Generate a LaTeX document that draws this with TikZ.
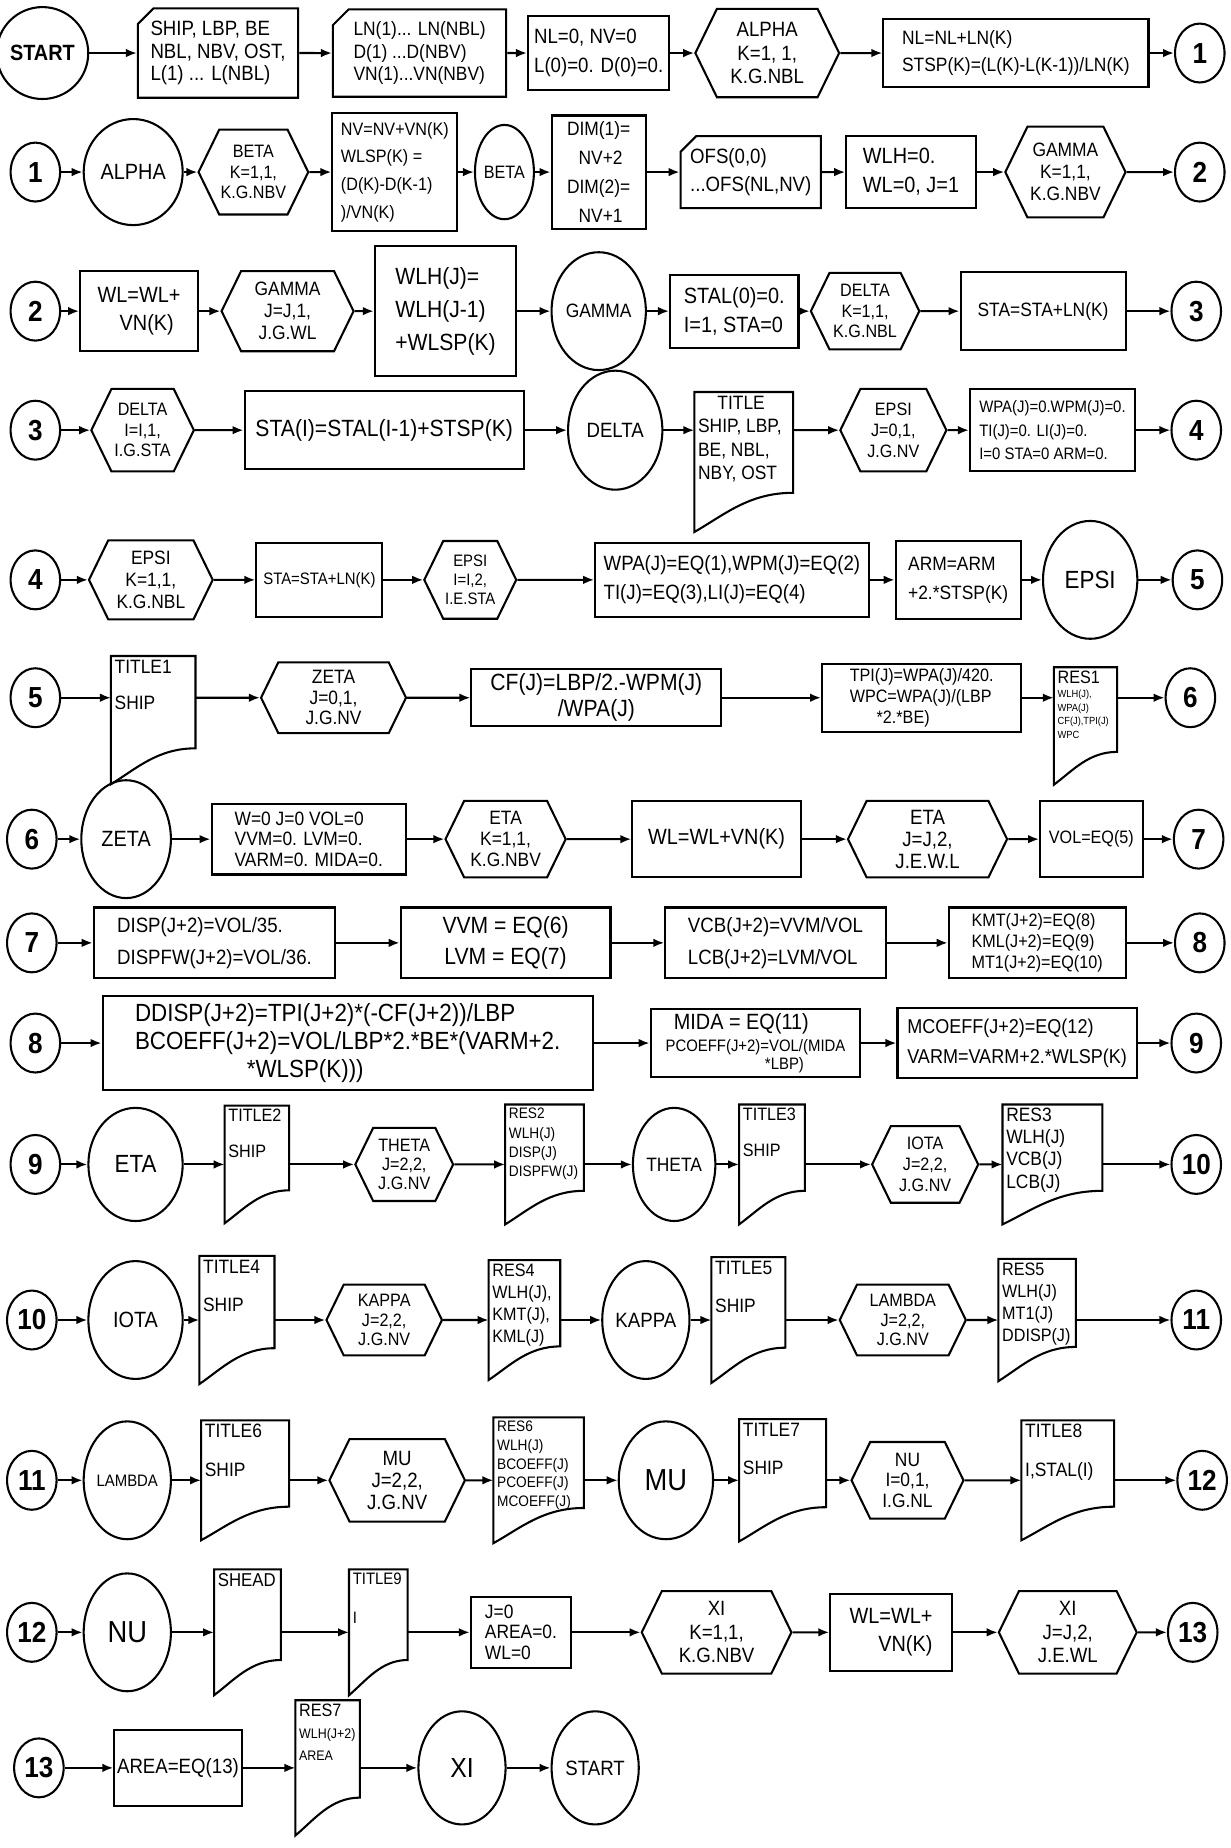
\documentclass[tikz,border=0pt]{standalone}
\usepackage{fontspec}
\setmainfont{Liberation Sans}[FakeStretch=0.9]
\usetikzlibrary{positioning, arrows.meta, shapes.geometric, shapes.misc, shapes.symbols, calc}

\newdimen\upx \upx=0.3mm
\newcommand{\fs}[2]{\fontsize{#1}{#2}\selectfont}
% page with curled lower edge, drawn round a named node
\newcommand{\docframe}[1]{%
  \draw let \p1=(#1.north west), \p2=(#1.south east) in
    (\p1) -- (\x2,\y1) -- (\x2,{\y2+0.28*(\y1-\y2)})
    .. controls ({\x2-0.45*(\x2-\x1)},{\y2+0.28*(\y1-\y2)}) and ({\x1+0.3*(\x2-\x1)},{\y2+0.12*(\y1-\y2)}) .. (\x1,\y2) -- cycle;}

\begin{document}
\begin{tikzpicture}[
    x=0.3mm, y=-0.3mm,
    line width=1.5pt,
    >={Latex[length=2.8mm, width=2.2mm]},
    every node/.style={font=\fs{14}{16}},
    box/.style 2 args={draw, rectangle, minimum width=#1*0.3mm, minimum height=#2*0.3mm, align=left, inner sep=2pt},
    card/.style 2 args={draw, chamfered rectangle, chamfered rectangle corners=north west, chamfered rectangle xsep=1.5mm, chamfered rectangle ysep=2.5mm, minimum width=#1*0.3mm, minimum height=#2*0.3mm, align=left, inner sep=2pt},
    hexa/.style 2 args={draw, signal, signal to=west and east, signal from=nowhere, signal pointer angle=128, minimum width=#1*0.3mm, minimum height=#2*0.3mm, align=center, inner sep=1pt},
    term/.style 2 args={draw, ellipse, minimum width=#1*0.3mm, minimum height=#2*0.3mm, inner sep=0pt},
    conn/.style={draw, ellipse, minimum width=42*0.3mm, minimum height=50*0.3mm, inner sep=0pt, font=\fs{21}{23}\bfseries},
    doc/.style 2 args={inner sep=2pt, execute at begin node={\begin{minipage}[c][\dimexpr#2\upx-4pt\relax][t]{\dimexpr#1\upx-4pt\relax}\raggedright}, execute at end node={\end{minipage}}}
]

\path[fill=white, use as bounding box] (0,0) rectangle (1044,1568);

% ================= Row 1 =================
\node[term={56}{78}, font=\fs{16}{18}\bfseries] (start) at (36,45) {START};
\node[card={136}{57}, font=\fs{15}{16.5}] (in1) at (185,45) {SHIP, LBP, BE\\NBL, NBV, OST,\\L(1) ... L(NBL)};
\node[card={147}{57}, font=\fs{14}{16}] (in2) at (356,45) {LN(1)... LN(NBL)\\D(1) ...D(NBV)\\VN(1)...VN(NBV)};
\node[box={120}{63}, font=\fs{15}{21}] (init) at (508,45) {NL=0, NV=0\\L(0)=0. D(0)=0.};
\node[hexa={122}{75}, font=\fs{15}{17}] (alpha) at (651,45) {ALPHA\\K=1, 1,\\K.G.NBL};
\node[box={225}{58}, font=\fs{14}{19}] (stsp) at (862,45) {NL=NL+LN(K)\\STSP(K)=(L(K)-L(K-1))/LN(K)};
\node[conn] (c1a) at (1018,45) {1};

% ================= Row 2 =================
\node[conn] (c1b) at (30,146) {1};
\node[term={84}{90}, font=\fs{16}{18}] (alphaend) at (113,146) {ALPHA};
\node[hexa={86}{72}, font=\fs{13}{15}] (beta) at (215,146) {BETA\\K=1,1,\\K.G.NBV};
\node[box={106}{100}, font=\fs{13}{20}] (wlsp) at (335,146) {NV=NV+VN(K)\\WLSP(K) =\\(D(K)-D(K-1)\\)/VN(K)};
\node[term={50}{80}, font=\fs{13}{15}] (betaend) at (428,146) {BETA};
\node[box={80}{96}, font=\fs{14}{21}] (dim) at (508,146) {DIM(1)=\\\hspace*{0.6em}NV+2\\DIM(2)=\\\hspace*{0.6em}NV+1};
\node[card={119}{60}, font=\fs{15}{20}] (ofs) at (637,146) {OFS(0,0)\\...OFS(NL,NV)};
\node[box={110}{61}, font=\fs{16}{21}] (wlh) at (773,146) {WLH=0.\\WL=0, J=1};
\node[hexa={102}{77}, font=\fs{14}{16}] (gamma) at (904,146) {GAMMA\\K=1,1,\\K.G.NBV};
\node[conn] (c2a) at (1018,146) {2};

% ================= Row 3 =================
\node[conn] (c2b) at (30,264) {2};
\node[box={100}{68}, font=\fs{16}{20}] (wl) at (118,264) {WL=WL+\\\hspace*{1em}VN(K)};
\node[hexa={112}{68}] (gammaj) at (244,264) {GAMMA\\J=J,1,\\J.G.WL};
\node[box={120}{110}, font=\fs{17}{24}] (wlhj) at (378,264) {WLH(J)=\\WLH(J-1)\\+WLSP(K)};
\node[term={80}{100}, font=\fs{14}{16}] (gammaend) at (508,264) {GAMMA};
\node[box={109}{62}, font=\fs{16}{21}] (stal) at (623,264) {STAL(0)=0.\\I=1, STA=0};
\node[hexa={92}{65}, font=\fs{13}{15}] (delta) at (734,264) {DELTA\\K=1,1,\\K.G.NBL};
\node[box={140}{66}] (sta) at (885,264) {STA=STA+LN(K)};
\node[conn] (c3a) at (1015,264) {3};

% ================= Row 4 =================
\node[conn] (c3b) at (30,365) {3};
\node[hexa={87}{70}, font=\fs{13}{15}] (deltai) at (121,365) {DELTA\\I=I,1,\\I.G.STA};
\node[box={237}{66}, font=\fs{17}{20}] (stai) at (326,365) {STA(I)=STAL(I-1)+STSP(K)};
\node[term={80}{101}, font=\fs{15}{17}] (deltaend) at (522,365) {DELTA};
\node[doc={82}{117}, font=\fs{14}{17}] (title) at (631,392) {\hspace*{1em}TITLE\newline SHIP, LBP,\newline BE, NBL,\newline NBY, OST};
\node[hexa={90}{70}, font=\fs{13}{15}] (epsij) at (758,365) {EPSI\\J=0,1,\\J.G.NV};
\node[box={140}{70}, font=\fs{12}{17}] (wpa0) at (893,365) {WPA(J)=0.WPM(J)=0.\\TI(J)=0. LI(J)=0.\\I=0 STA=0 ARM=0.};
\node[conn] (c4a) at (1015,365) {4};

% ================= Row 5 =================
\node[conn] (c4b) at (30,492) {4};
\node[hexa={105}{67}] (epsik) at (128,492) {EPSI\\K=1,1,\\K.G.NBL};
\node[box={107}{63}, font=\fs{12}{14}] (sta2) at (271,492) {STA=STA+LN(K)};
\node[hexa={78}{66}, font=\fs{12}{14}] (epsii) at (399,492) {EPSI\\I=I,2,\\I.E.STA};
\node[box={232}{63}, font=\fs{15}{21}] (wpa) at (621,492) {WPA(J)=EQ(1),WPM(J)=EQ(2)\\TI(J)=EQ(3),LI(J)=EQ(4)};
\node[box={106}{66}, font=\fs{14}{21}] (arm) at (813,492) {ARM=ARM\\+2.*STSP(K)};
\node[term={80}{100}, font=\fs{18}{20}] (epsiend) at (925,492) {EPSI};
\node[conn] (c5a) at (1016,492) {5};

% ================= Row 6 =================
\node[conn] (c5b) at (30,592) {5};
\node[doc={70}{107}, font=\fs{14}{26}] (title1) at (130,611) {TITLE1\newline SHIP};
\node[hexa={123}{60}, font=\fs{14}{15}] (zeta) at (283,592) {ZETA\\J=0,1,\\J.G.NV};
\node[box={212}{48}, font=\fs{17}{19}, align=center] (cf) at (506,592) {CF(J)=LBP/2.-WPM(J)\\/WPA(J)};
\node[box={169}{58}, font=\fs{13}{15}] (tpi) at (782,592) {TPI(J)=WPA(J)/420.\\WPC=WPA(J)/(LBP\\\hspace*{1.5em}*2.*BE)};
\node[doc={52}{98}, font=\fs{7.5}{10}] (res1) at (921,616) {{\fs{13}{14}RES1}\newline WLH(J),\newline WPA(J)\newline CF(J),TPI(J)\newline WPC};
\node[conn] (c6a) at (1010,592) {6};

% ================= Row 7 =================
\node[conn] (c6b) at (27,712) {6};
\node[term={76}{100}, font=\fs{16}{18}] (zetaend) at (107,712) {ZETA};
\node[box={165}{60}, font=\fs{14}{15}] (init2) at (262,712) {W=0 J=0 VOL=0\\VVM=0. LVM=0.\\VARM=0. MIDA=0.};
\node[hexa={102}{65}, font=\fs{14}{15}] (etak) at (429,712) {ETA\\K=1,1,\\K.G.NBV};
\node[box={143}{65}, font=\fs{16}{18}] (wl2) at (608,712) {WL=WL+VN(K)};
\node[hexa={135}{65}, font=\fs{15}{16}] (etaj) at (787,712) {ETA\\J=J,2,\\J.E.W.L};
\node[box={87}{65}, font=\fs{13}{15}] (vol) at (926,712) {VOL=EQ(5)};
\node[conn] (c7a) at (1017,712) {7};

% ================= Row 8 =================
\node[conn] (c7b) at (27,800) {7};
\node[box={205}{60}, font=\fs{15}{23}] (disp) at (182,800) {DISP(J+2)=VOL/35.\\DISPFW(J+2)=VOL/36.};
\node[box={178}{60}, font=\fs{17}{22}, align=center] (vvm) at (429,800) {VVM = EQ(6)\\LVM = EQ(7)};
\node[box={187}{60}, font=\fs{15}{23}] (vcb) at (658,800) {VCB(J+2)=VVM/VOL\\LCB(J+2)=LVM/VOL};
\node[box={150}{60}, font=\fs{13}{15}] (kmt) at (880,800) {KMT(J+2)=EQ(8)\\KML(J+2)=EQ(9)\\MT1(J+2)=EQ(10)};
\node[conn] (c8a) at (1018,800) {8};

% ================= Row 9 =================
\node[conn] (c8b) at (30,885) {8};
\node[box={416}{80}, font=\fs{18}{20}] (ddisp) at (295,885) {DDISP(J+2)=TPI(J+2)*(-CF(J+2))/LBP\\BCOEFF(J+2)=VOL/LBP*2.*BE*(VARM+2.\\\hspace*{4.5em}*WLSP(K)))};
\node[box={178}{58}, font=\fs{12}{13}] (mida) at (641,885) {\hspace*{0.5em}{\fs{16}{17}MIDA = EQ(11)}\\[3pt]PCOEFF(J+2)=VOL/(MIDA\\\hspace*{6em}*LBP)};
\node[box={203}{60}, font=\fs{14.5}{22}] (mcoeff) at (863,885) {MCOEFF(J+2)=EQ(12)\\VARM=VARM+2.*WLSP(K)};
\node[conn] (c9a) at (1015,885) {9};

% ================= Row 10 =================
\node[conn] (c9b) at (30,988) {9};
\node[term={80}{96}, font=\fs{18}{20}] (etaend) at (115,988) {ETA};
\node[doc={53}{98}, font=\fs{13}{26}] (title2) at (218,988) {TITLE2\newline SHIP};
\node[hexa={83}{62}, font=\fs{13}{14}] (theta) at (343,988) {THETA\\J=2,2,\\J.G.NV};
\node[doc={65}{100}, font=\fs{11}{14}] (res2) at (462,988) {RES2\newline WLH(J)\newline DISP(J)\newline DISPFW(J)};
\node[term={70}{96}, font=\fs{14}{16}] (thetaend) at (572,988) {THETA};
\node[doc={54}{100}, font=\fs{13}{26}] (title3) at (655,988) {TITLE3\newline SHIP};
\node[hexa={90}{65}, font=\fs{13}{15}] (iota) at (785,988) {IOTA\\J=2,2,\\J.G.NV};
\node[doc={83}{100}, font=\fs{14}{16}] (res3) at (893,988) {RES3\newline WLH(J)\newline VCB(J)\newline LCB(J)};
\node[conn] (c10a) at (1015,988) {10};

% ================= Row 11 =================
\node[conn] (c10b) at (27,1120) {10};
\node[term={80}{100}, font=\fs{16}{18}] (iotaend) at (115,1120) {IOTA};
\node[doc={62}{107}, font=\fs{14}{28}] (title4) at (201,1120) {TITLE4\newline SHIP};
\node[hexa={98}{60}, font=\fs{13}{14}] (kappa) at (326,1120) {KAPPA\\J=2,2,\\J.G.NV};
\node[doc={59}{100}, font=\fs{13}{16}] (res4) at (445,1120) {RES4\newline WLH(J),\newline KMT(J),\newline KML(J)};
\node[term={74}{100}, font=\fs{15}{17}] (kappaend) at (548,1120) {KAPPA};
\node[doc={61}{105}, font=\fs{14}{28}] (title5) at (635,1120) {TITLE5\newline SHIP};
\node[hexa={107}{60}, font=\fs{13}{14}] (lambda) at (766,1120) {LAMBDA\\J=2,2,\\J.G.NV};
\node[doc={64}{102}, font=\fs{13}{16}] (res5) at (880,1120) {RES5\newline WLH(J)\newline MT1(J)\newline DDISP(J)};
\node[conn] (c11a) at (1015,1120) {11};

% ================= Row 12 =================
\node[conn] (c11b) at (27,1256) {11};
\node[term={74}{100}, font=\fs{12}{14}] (lambdaend) at (108,1256) {LAMBDA};
\node[doc={73}{100}, font=\fs{14}{28}] (title6) at (208,1256) {TITLE6\newline SHIP};
\node[hexa={115}{70}, font=\fs{15}{16}] (mu) at (337,1256) {MU\\J=2,2,\\J.G.NV};
\node[doc={75}{105}, font=\fs{11}{13.5}] (res6) at (457,1256) {RES6\newline WLH(J)\newline BCOEFF(J)\newline PCOEFF(J)\newline MCOEFF(J)};
\node[term={80}{100}, font=\fs{22}{24}] (muend) at (565,1256) {MU};
\node[doc={72}{102}, font=\fs{14}{28}] (title7) at (664,1256) {TITLE7\newline SHIP};
\node[hexa={95}{65}, font=\fs{14}{15}] (nu) at (770,1256) {NU\\I=0,1,\\I.G.NL};
\node[doc={77}{100}, font=\fs{14}{28}] (title8) at (906,1256) {TITLE8\newline I,STAL(I)};
\node[conn] (c12a) at (1020,1256) {12};

% ================= Row 13 =================
\node[conn] (c12b) at (27,1385) {12};
\node[term={74}{100}, font=\fs{22}{24}] (nuend) at (108,1385) {NU};
\node[doc={55}{105}, font=\fs{13.5}{15}] (shead) at (210,1385) {SHEAD};
\node[doc={48}{105}, font=\fs{12}{28}] (title9) at (321,1385) {TITLE9\newline I};
\node[box={85}{60}, font=\fs{14}{15}] (init3) at (442,1385) {J=0\\AREA=0.\\WL=0};
\node[hexa={127}{70}, font=\fs{15}{17}] (xik) at (608,1385) {XI\\K=1,1,\\K.G.NBV};
\node[box={103}{65}, font=\fs{16}{20}] (wl3) at (756,1385) {WL=WL+\\\hspace*{1.3em}VN(K)};
\node[hexa={117}{70}, font=\fs{15}{17}] (xij) at (906,1385) {XI\\J=J,2,\\J.E.WL};
\node[conn] (c13a) at (1012,1385) {13};

% ================= Row 14 =================
\node[conn] (c13b) at (33,1500) {13};
\node[box={108}{65}, font=\fs{15}{17}] (area) at (151,1500) {AREA=EQ(13)};
\node[doc={53}{113}, font=\fs{10}{16}] (res7) at (278,1500) {{\fs{13}{16}RES7}\newline WLH(J+2)\newline AREA};
\node[term={74}{96}, font=\fs{20}{22}] (xiend) at (392,1500) {XI};
\node[term={74}{96}, font=\fs{15}{17}] (stop) at (505,1500) {START};

% ================= Document outlines =================
\foreach \d in {title, title1, res1, title2, res2, title3, res3, title4, res4, title5, res5,
                title6, res6, title7, title8, shead, title9, res7}
  \docframe{\d};

% ================= Edges =================
\foreach \a/\b in {start/in1, in1/in2, in2/init, init/alpha, alpha/stsp, stsp/c1a,
    c1b/alphaend, alphaend/beta, beta/wlsp, wlsp/betaend, betaend/dim, dim/ofs, ofs/wlh, wlh/gamma, gamma/c2a,
    c2b/wl, wl/gammaj, gammaj/wlhj, wlhj/gammaend, gammaend/stal, stal/delta, delta/sta, sta/c3a,
    c3b/deltai, deltai/stai, stai/deltaend, deltaend/title, epsij/wpa0, wpa0/c4a,
    c4b/epsik, epsik/sta2, sta2/epsii, epsii/wpa, wpa/arm, arm/epsiend, epsiend/c5a,
    c5b/title1, zeta/cf, cf/tpi, tpi/res1,
    c6b/zetaend, zetaend/init2, init2/etak, etak/wl2, wl2/etaj, etaj/vol, vol/c7a,
    c7b/disp, disp/vvm, vvm/vcb, vcb/kmt, kmt/c8a,
    c8b/ddisp, ddisp/mida, mida/mcoeff, mcoeff/c9a,
    c9b/etaend, etaend/title2, title2/theta, theta/res2, res2/thetaend, thetaend/title3, title3/iota, iota/res3, res3/c10a,
    c10b/iotaend, iotaend/title4, title4/kappa, kappa/res4, res4/kappaend, kappaend/title5, title5/lambda, lambda/res5, res5/c11a,
    c11b/lambdaend, lambdaend/title6, title6/mu, mu/res6, res6/muend, muend/title7, title7/nu, nu/title8, title8/c12a,
    c12b/nuend, nuend/shead, shead/title9, title9/init3, init3/xik, xik/wl3, wl3/xij, xij/c13a,
    c13b/area, area/res7, res7/xiend, xiend/stop}
  \draw[->] (\a) -- (\a -| \b.west);

% documents that sit lower than their row
\foreach \a/\b in {title/epsij, title1/zeta, res1/c6a}
  \draw[->] (\b -| \a.east) -- (\b);

\end{tikzpicture}
\end{document}
